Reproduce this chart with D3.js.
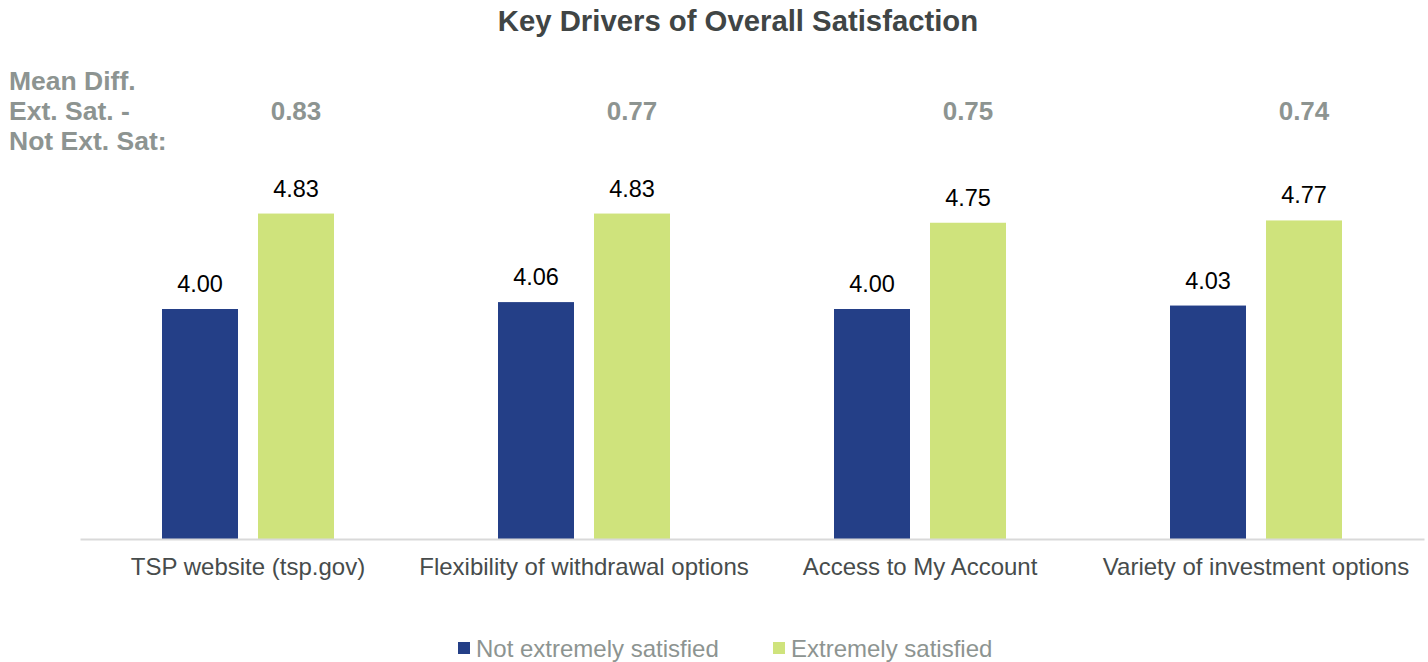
<!DOCTYPE html>
<html>
<head>
<meta charset="utf-8">
<script src="https://cdn.jsdelivr.net/npm/d3@7"></script>
<style>
  html, body { margin: 0; padding: 0; background: #ffffff; }
  svg { display: block; font-family: "Liberation Sans", Arial, sans-serif; }
</style>
</head>
<body>
<svg id="chart" width="1428" height="662"></svg>
<script>
// Key driver categories and mean ratings per group
const categories = [
  "TSP website (tsp.gov)",
  "Flexibility of withdrawal options",
  "Access to My Account",
  "Variety of investment options"
];
const seriesNames = ["Not extremely satisfied", "Extremely satisfied"];
const notExtremely = [4.00, 4.06, 4.00, 4.03];
const extremely = [4.83, 4.83, 4.75, 4.77];
const meanDiff = [0.83, 0.77, 0.75, 0.74];
const diffHeader = ["Mean Diff.", "Ext. Sat. -", "Not Ext. Sat:"];
const titleText = "Key Drivers of Overall Satisfaction";

const colors = ["#243f87", "#cfe37c"];
const grayText = "#8d9491";
const labelText = "#474c4c";

const svg = d3.select("#chart");
const plot = { left: 80, right: 1424, baseline: 539, top: 194 };

const x0 = d3.scaleBand()
  .domain(categories)
  .range([plot.left, plot.right])
  .paddingInner(164 / 336)
  .paddingOuter(82 / 336);

const x1 = d3.scaleBand()
  .domain(seriesNames)
  .range([0, x0.bandwidth()])
  .paddingInner(20 / 96);

const y = d3.scaleLinear().domain([2, 5]).range([plot.baseline, plot.top]);

const rows = categories.map((c, i) => ({
  category: c,
  diff: meanDiff[i],
  values: [
    { series: seriesNames[0], value: notExtremely[i], color: colors[0] },
    { series: seriesNames[1], value: extremely[i], color: colors[1] }
  ]
}));

// Title
svg.append("text")
  .attr("x", 738).attr("y", 31)
  .attr("text-anchor", "middle")
  .attr("font-size", 29.3).attr("font-weight", "bold")
  .attr("fill", "#404545")
  .text(titleText);

// Mean difference header on the left
svg.append("g").selectAll("text")
  .data(diffHeader)
  .join("text")
  .attr("x", 9)
  .attr("y", (d, i) => 90 + i * 30)
  .attr("font-size", 26.5).attr("font-weight", "bold")
  .attr("fill", grayText)
  .text(d => d);

// Bar groups
const groups = svg.append("g").selectAll("g")
  .data(rows)
  .join("g")
  .attr("transform", d => `translate(${x0(d.category)},0)`);

groups.selectAll("rect")
  .data(d => d.values)
  .join("rect")
  .attr("x", d => x1(d.series))
  .attr("y", d => y(d.value))
  .attr("width", x1.bandwidth())
  .attr("height", d => y(2) - y(d.value))
  .attr("fill", d => d.color);

groups.selectAll("text.val")
  .data(d => d.values)
  .join("text")
  .attr("class", "val")
  .attr("x", d => x1(d.series) + x1.bandwidth() / 2)
  .attr("y", d => y(d.value) - 17)
  .attr("text-anchor", "middle")
  .attr("font-size", 23.5)
  .attr("fill", "#000000")
  .text(d => d3.format(".2f")(d.value));

// Mean difference values, over the extremely satisfied bar
groups.append("text")
  .attr("x", x1(seriesNames[1]) + x1.bandwidth() / 2)
  .attr("y", 120)
  .attr("text-anchor", "middle")
  .attr("font-size", 26).attr("font-weight", "bold")
  .attr("fill", grayText)
  .text(d => d3.format(".2f")(d.diff));

// Category axis
const xAxis = svg.append("g")
  .attr("transform", `translate(0,${plot.baseline})`)
  .call(d3.axisBottom(x0).tickSize(0).tickPadding(0));
xAxis.select(".domain").attr("stroke", "#d9d9d9").attr("stroke-width", 2);
xAxis.selectAll(".tick text")
  .attr("dy", 0).attr("y", 36)
  .attr("font-size", 24)
  .attr("font-family", "Liberation Sans, Arial, sans-serif")
  .attr("fill", labelText);

// Legend
const legendPos = [458, 773];
const legend = svg.append("g").selectAll("g")
  .data(seriesNames)
  .join("g")
  .attr("transform", (d, i) => `translate(${legendPos[i]},642)`);
legend.append("rect")
  .attr("width", 12).attr("height", 12)
  .attr("fill", (d, i) => colors[i]);
legend.append("text")
  .attr("x", 18).attr("y", 14.5)
  .attr("font-size", 24)
  .attr("fill", grayText)
  .text(d => d);
</script>
</body>
</html>
